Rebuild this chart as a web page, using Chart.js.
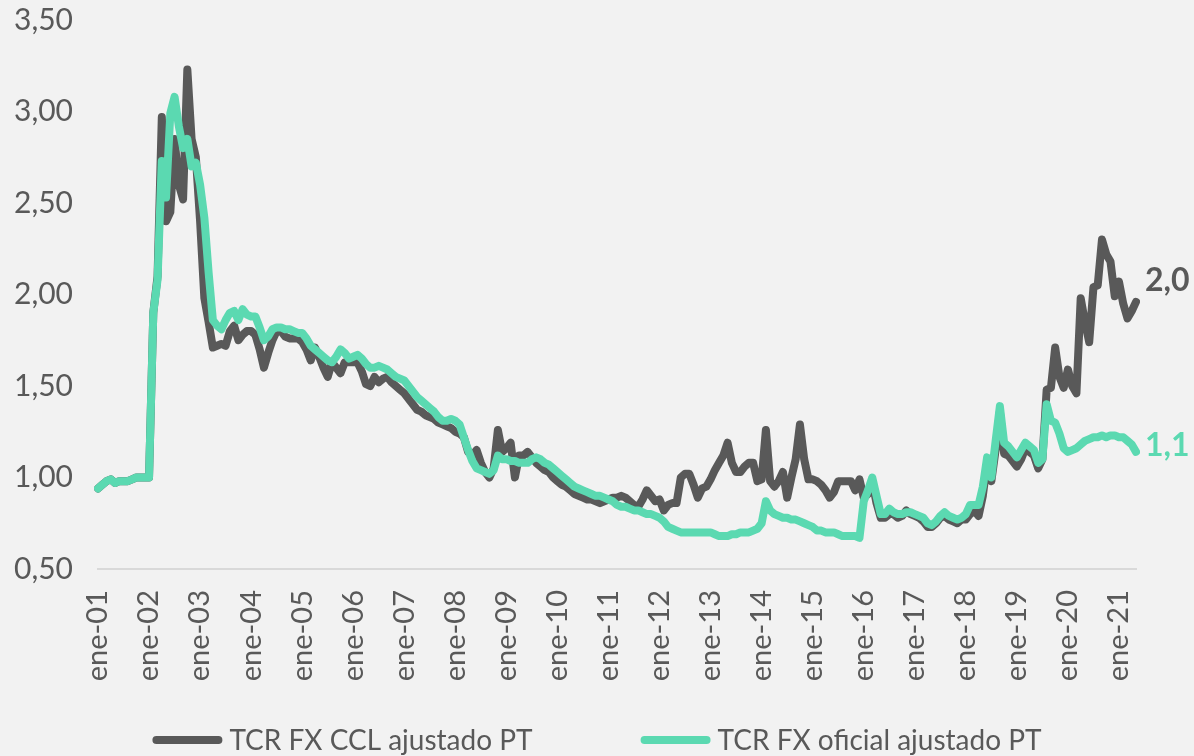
<!DOCTYPE html>
<html lang="es">
<head>
<meta charset="utf-8">
<title>TCR FX CCL vs oficial</title>
<script src="https://cdn.jsdelivr.net/npm/chart.js@4.4.1/dist/chart.umd.min.js"></script>
<style>
  html, body { margin: 0; padding: 0; background: #f2f2f2; }
  #wrap { width: 1194px; height: 756px; position: relative; }
</style>
</head>
<body>
<div id="wrap"><canvas id="chart"></canvas></div>
<script>
/* ── Datos (mensual, ene-01 a may-21) ───────────────────── */
const MESES = ["ene", "feb", "mar", "abr", "may", "jun", "jul", "ago", "sep", "oct", "nov", "dic"];
const ANIOS = ["01", "02", "03", "04", "05", "06", "07", "08", "09", "10", "11",
               "12", "13", "14", "15", "16", "17", "18", "19", "20", "21"];

// TCR FX CCL ajustado PT
const ccl = [
  0.94, 0.96, 0.98, 0.99, 0.97, 0.98, 0.98, 0.98, 0.99, 1.00, 1.00, 1.00, // 2001
  1.00, 1.90, 2.10, 2.97, 2.40, 2.45, 2.85, 2.60, 2.52, 3.23, 2.85, 2.75, // 2002
  2.40, 1.98, 1.85, 1.71, 1.72, 1.73, 1.72, 1.80, 1.83, 1.75, 1.78, 1.80, // 2003
  1.80, 1.78, 1.70, 1.60, 1.68, 1.75, 1.80, 1.80, 1.77, 1.76, 1.76, 1.76, // 2004
  1.74, 1.70, 1.64, 1.71, 1.66, 1.60, 1.55, 1.63, 1.60, 1.57, 1.63, 1.63, // 2005
  1.63, 1.63, 1.58, 1.51, 1.50, 1.55, 1.52, 1.54, 1.55, 1.52, 1.50, 1.48, // 2006
  1.46, 1.43, 1.40, 1.37, 1.36, 1.34, 1.33, 1.32, 1.30, 1.29, 1.28, 1.27, // 2007
  1.25, 1.24, 1.22, 1.14, 1.12, 1.15, 1.08, 1.03, 1.00, 1.05, 1.26, 1.14, // 2008
  1.16, 1.19, 1.00, 1.12, 1.12, 1.14, 1.11, 1.08, 1.06, 1.04, 1.03, 1.00, // 2009
  0.98, 0.96, 0.95, 0.93, 0.91, 0.90, 0.89, 0.88, 0.88, 0.87, 0.86, 0.87, // 2010
  0.88, 0.89, 0.89, 0.90, 0.89, 0.87, 0.85, 0.84, 0.88, 0.93, 0.90, 0.87, // 2011
  0.88, 0.82, 0.85, 0.86, 0.86, 1.00, 1.02, 1.02, 0.96, 0.89, 0.94, 0.95, // 2012
  0.99, 1.04, 1.08, 1.12, 1.19, 1.08, 1.03, 1.03, 1.06, 1.08, 1.08, 0.98, // 2013
  0.99, 1.26, 0.98, 0.95, 0.98, 1.03, 0.89, 1.00, 1.10, 1.29, 1.10, 0.99, // 2014
  0.99, 0.98, 0.96, 0.93, 0.89, 0.92, 0.98, 0.98, 0.98, 0.98, 0.93, 0.99, // 2015
  0.89, 0.91, 0.98, 0.86, 0.78, 0.78, 0.80, 0.80, 0.78, 0.79, 0.82, 0.80, // 2016
  0.79, 0.78, 0.76, 0.73, 0.73, 0.75, 0.78, 0.79, 0.77, 0.76, 0.75, 0.77, // 2017
  0.77, 0.80, 0.82, 0.79, 0.90, 1.08, 0.98, 1.15, 1.36, 1.13, 1.12, 1.09, // 2018
  1.06, 1.10, 1.16, 1.14, 1.12, 1.05, 1.10, 1.48, 1.49, 1.71, 1.55, 1.49, // 2019
  1.59, 1.50, 1.46, 1.98, 1.85, 1.74, 2.04, 2.05, 2.30, 2.22, 2.18, 1.99, // 2020
  2.07, 1.95, 1.87, 1.91, 1.96                                            // 2021
];

// TCR FX oficial ajustado PT
const oficial = [
  0.94, 0.96, 0.98, 0.99, 0.97, 0.98, 0.98, 0.98, 0.99, 1.00, 1.00, 1.00, // 2001
  1.00, 1.90, 2.08, 2.73, 2.53, 2.99, 3.08, 2.92, 2.80, 2.85, 2.70, 2.72, // 2002
  2.60, 2.42, 2.12, 1.86, 1.83, 1.81, 1.86, 1.90, 1.91, 1.86, 1.92, 1.89, // 2003
  1.88, 1.88, 1.82, 1.75, 1.77, 1.81, 1.82, 1.82, 1.81, 1.81, 1.80, 1.79, // 2004
  1.79, 1.76, 1.72, 1.70, 1.68, 1.66, 1.64, 1.63, 1.66, 1.70, 1.68, 1.65, // 2005
  1.66, 1.67, 1.65, 1.62, 1.60, 1.60, 1.61, 1.60, 1.59, 1.57, 1.55, 1.54, // 2006
  1.53, 1.50, 1.47, 1.44, 1.42, 1.40, 1.38, 1.36, 1.33, 1.31, 1.31, 1.32, // 2007
  1.31, 1.29, 1.22, 1.15, 1.09, 1.05, 1.04, 1.03, 1.02, 1.04, 1.12, 1.10, // 2008
  1.10, 1.09, 1.09, 1.08, 1.08, 1.08, 1.10, 1.11, 1.10, 1.08, 1.07, 1.05, // 2009
  1.03, 1.01, 0.99, 0.97, 0.95, 0.94, 0.93, 0.92, 0.91, 0.90, 0.90, 0.89, // 2010
  0.88, 0.87, 0.85, 0.84, 0.84, 0.83, 0.82, 0.82, 0.81, 0.80, 0.80, 0.79, // 2011
  0.78, 0.76, 0.73, 0.72, 0.71, 0.70, 0.70, 0.70, 0.70, 0.70, 0.70, 0.70, // 2012
  0.70, 0.69, 0.68, 0.68, 0.68, 0.69, 0.69, 0.70, 0.70, 0.70, 0.71, 0.72, // 2013
  0.75, 0.87, 0.82, 0.80, 0.79, 0.78, 0.78, 0.77, 0.77, 0.76, 0.75, 0.74, // 2014
  0.73, 0.71, 0.71, 0.70, 0.70, 0.70, 0.69, 0.68, 0.68, 0.68, 0.68, 0.67, // 2015
  0.87, 0.93, 1.00, 0.90, 0.80, 0.80, 0.83, 0.81, 0.80, 0.80, 0.81, 0.81, // 2016
  0.80, 0.79, 0.78, 0.75, 0.74, 0.76, 0.79, 0.81, 0.79, 0.78, 0.77, 0.78, // 2017
  0.80, 0.85, 0.85, 0.85, 0.95, 1.11, 1.00, 1.20, 1.39, 1.19, 1.17, 1.14, // 2018
  1.11, 1.15, 1.19, 1.17, 1.15, 1.08, 1.10, 1.40, 1.31, 1.30, 1.24, 1.16, // 2019
  1.14, 1.15, 1.16, 1.18, 1.20, 1.21, 1.22, 1.22, 1.23, 1.22, 1.23, 1.23, // 2020
  1.22, 1.22, 1.20, 1.18, 1.14                                            // 2021
];

const labels = [];
ANIOS.forEach(a => MESES.forEach(m => labels.push(m + "-" + a)));
labels.length = ccl.length;

/* ── Estilo ─────────────────────────────────────────────── */
const FONT   = "Lato, 'Open Sans', sans-serif";
const GRIS   = "#595959";
const VERDE  = "#5bd9b1";
const fmt    = (v, d) => v.toFixed(d).replace(".", ",");

/* ── Etiqueta del último valor ──────────────────────────── */
const endLabels = {
  id: "endLabels",
  afterDatasetsDraw(chart, args, opts) {
    const ctx = chart.ctx;
    chart.data.datasets.forEach((ds, i) => {
      const meta = chart.getDatasetMeta(i);
      const pt   = meta.data[meta.data.length - 1];
      const v    = ds.data[ds.data.length - 1];
      ctx.save();
      ctx.font         = "bold 32px " + FONT;
      ctx.fillStyle    = ds.borderColor;
      ctx.textBaseline = "middle";
      ctx.fillText(fmt(v, 1), pt.x + 9, pt.y + opts.dy[i]);
      ctx.restore();
    });
  },
};

/* ── Leyenda inferior (líneas anchas + texto) ───────────── */
const bottomLegend = {
  id: "bottomLegend",
  afterDraw(chart, args, opts) {
    const ctx = chart.ctx;
    ctx.save();
    ctx.font = opts.size + "px " + FONT;
    const items = chart.data.datasets.map(ds => ({
      ds,
      w: opts.lineW + opts.textGap + ctx.measureText(ds.label).width,
    }));
    const total = items.reduce((s, it) => s + it.w, 0) + opts.itemGap * (items.length - 1);
    let x = (chart.width - total) / 2;
    items.forEach(it => {
      ctx.strokeStyle = it.ds.borderColor;
      ctx.lineWidth   = 8;
      ctx.lineCap     = "round";
      ctx.beginPath();
      ctx.moveTo(x + 4, opts.y);
      ctx.lineTo(x + opts.lineW - 4, opts.y);
      ctx.stroke();
      ctx.fillStyle    = GRIS;
      ctx.textBaseline = "middle";
      ctx.fillText(it.ds.label, x + opts.lineW + opts.textGap, opts.y + 1);
      x += it.w + opts.itemGap;
    });
    ctx.restore();
  },
};

/* ── Gráfico ────────────────────────────────────────────── */
new Chart(document.getElementById("chart"), {
  type: "line",
  data: {
    labels,
    datasets: [
      {
        label: "TCR FX CCL ajustado PT",
        data: ccl,
        borderColor: GRIS,
        borderWidth: 8,
        borderJoinStyle: "round",
        borderCapStyle: "round",
        pointRadius: 0,
        tension: 0,
        order: 1,
      },
      {
        label: "TCR FX oficial ajustado PT",
        data: oficial,
        borderColor: VERDE,
        borderWidth: 8,
        borderJoinStyle: "round",
        borderCapStyle: "round",
        pointRadius: 0,
        tension: 0,
        order: 0,
      },
    ],
  },
  options: {
    responsive: true,
    maintainAspectRatio: false,
    animation: false,
    events: [],
    layout: { padding: { left: 0, right: 58, top: 20, bottom: 57 } },
    plugins: {
      legend:  { display: false },
      tooltip: { enabled: false },
      endLabels: { dy: [-21, -6] },
      bottomLegend: { y: 740, size: 28, lineW: 70, textGap: 7, itemGap: 108 },
    },
    scales: {
      x: {
        type: "category",
        offset: false,
        grid:   { display: false, drawTicks: false },
        border: { display: true, color: "#d9d9d9", width: 2 },
        ticks: {
          autoSkip: false,
          minRotation: 90,
          maxRotation: 90,
          padding: 21,
          color: GRIS,
          font: { family: FONT, size: 29 },
          callback: (v, i) => (labels[i].startsWith("ene") ? labels[i] : ""),
        },
        afterFit: s => { s.height = 130; },
      },
      y: {
        min: 0.5,
        max: 3.5,
        grid:   { display: false, drawTicks: false },
        border: { display: false },
        ticks: {
          stepSize: 0.5,
          padding: 25,
          color: GRIS,
          font: { family: FONT, size: 30 },
          callback: v => fmt(v, 2),
        },
        // fixed axis width; drop the label padding Chart.js adds above/below
        afterFit: s => { s.width = 98; s.paddingTop = 0; s.paddingBottom = 0; },
      },
    },
  },
  plugins: [endLabels, bottomLegend],
});
</script>
</body>
</html>
